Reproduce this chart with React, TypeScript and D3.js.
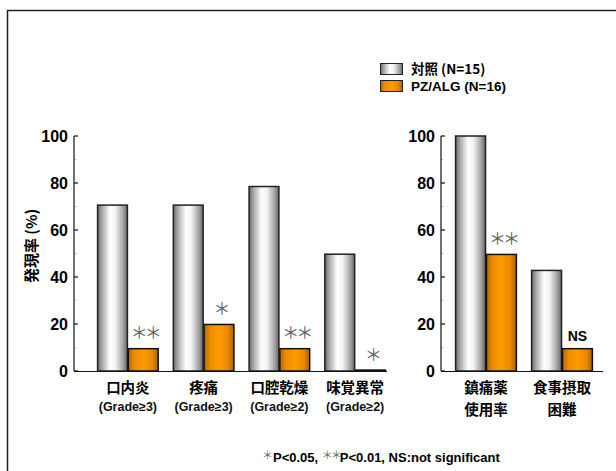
import React from 'react';
import * as d3 from 'd3';

const leftCategories = ['口内炎', '疼痛', '口腔乾燥', '味覚異常'];
const leftSublabels = ['(Grade≥3)', '(Grade≥3)', '(Grade≥2)', '(Grade≥2)'];
const leftControl = [70.6, 70.6, 78.5, 49.7];
const leftPZ = [9.5, 19.8, 9.5, 0.4];
const leftSig = ['**', '*', '**', '*'];

const rightCategories = ['鎮痛薬\n使用率', '食事摂取\n困難'];
const rightControl = [100, 42.8];
const rightPZ = [49.6, 9.5];
const rightSig = ['**', 'NS'];

const series = ['対照 (N=15)', 'PZ/ALG (N=16)'];
const yTicks = [0, 20, 40, 60, 80, 100];
const footnote = ['*', 'P<0.05, ', '**', 'P<0.01, NS:not significant'];

const ARIAL = '"Liberation Sans", Arial, sans-serif';
const CJK = '"Noto Sans CJK JP", "Liberation Sans", sans-serif';

const y = d3.scaleLinear().domain([0, 100]).range([371, 136]);

const star = (s: string) => s.replace(/\*/g, '＊');

function Panel({ cats, ctrl, pz, sig, axisX, axisEnd, range, sub }: any) {
  const x = d3.scaleBand<string>().domain(cats).range(range).paddingInner(0.2).paddingOuter(0.1);
  const x1 = d3.scaleBand<string>().domain(['c', 'p']).range([0, x.bandwidth()]).paddingInner(0.03);
  const minor = d3.range(10, 100, 20);
  return (
    <g>
      <line x1={axisX} x2={axisX} y1={y(100)} y2={y(0)} stroke="#111" strokeWidth={1.2} />
      {yTicks.map((t) => (
        <g key={t}>
          <line x1={axisX} x2={axisX + 4} y1={y(t)} y2={y(t)} stroke="#111" strokeWidth={1.2} />
          <text x={axisX - 6} y={y(t)} dy="0.36em" textAnchor="end" fontFamily={ARIAL} fontWeight="bold" fontSize={16} fill="#000">
            {t}
          </text>
        </g>
      ))}
      {minor.map((t) => (
        <line key={t} x1={axisX} x2={axisX + 1.5} y1={y(t)} y2={y(t)} stroke="#666" strokeWidth={1} />
      ))}
      {cats.map((c: string, i: number) => {
        const gx = x(c)!;
        const xc = gx + x1('c')!;
        const xp = gx + x1('p')!;
        const bw = x1.bandwidth();
        const s = sig[i];
        const isNS = s === 'NS';
        const n = s.length;
        return (
          <g key={c}>
            <rect x={xc} y={y(ctrl[i])} width={bw} height={y(0) - y(ctrl[i])} fill="url(#greyGrad)" stroke="#222" strokeWidth={1.5} />
            <rect x={xp} y={y(pz[i])} width={bw} height={y(0) - y(pz[i])} fill="url(#orangeGrad)" stroke="#111" strokeWidth={1.5} />
            <text
              x={xp + bw / 2 + (isNS ? 0 : 1.5)}
              y={y(pz[i]) - (isNS ? 13 : 17)}
              dominantBaseline="central"
              textAnchor="middle"
              fontFamily={isNS ? ARIAL : CJK}
              fontWeight={isNS ? 'bold' : 'normal'}
              fontSize={isNS ? 14 : 17}
              letterSpacing={isNS ? 0 : -3}
              fill={isNS ? '#000' : '#666'}
            >
              {isNS ? s : star(s)}
            </text>
          </g>
        );
      })}
      <line x1={axisX} x2={axisEnd} y1={y(0) + 0.5} y2={y(0) + 0.5} stroke="#111" strokeWidth={1.2} />
      {cats.map((c: string, i: number) => {
        const cx = x(c)! + x.bandwidth() / 2;
        const lines = c.split('\n');
        return (
          <g key={'l' + c}>
            <text x={cx} y={393} textAnchor="middle" fontFamily={CJK} fontWeight="bold" fontSize={14.5} fill="#000">
              {lines[0]}
            </text>
            {sub ? (
              <text x={cx} y={411} textAnchor="middle" fontFamily={ARIAL} fontWeight="bold" fontSize={12.5} fill="#111">
                {sub[i]}
              </text>
            ) : (
              <text x={cx} y={415} textAnchor="middle" fontFamily={CJK} fontWeight="bold" fontSize={14.5} fill="#000">
                {lines[1]}
              </text>
            )}
          </g>
        );
      })}
    </g>
  );
}

export default function App() {
  return (
    <svg width={616} height={471} style={{ position: 'absolute', left: 0, top: 0, background: '#fff' }}>
      <defs>
        <linearGradient id="greyGrad" x1="0" x2="1" y1="0" y2="0">
          <stop offset="0" stopColor="#6a6a6a" />
          <stop offset="0.15" stopColor="#a9a9a9" />
          <stop offset="0.42" stopColor="#ffffff" />
          <stop offset="0.6" stopColor="#f2f2f2" />
          <stop offset="0.85" stopColor="#a4a4a4" />
          <stop offset="1" stopColor="#666666" />
        </linearGradient>
        <linearGradient id="orangeGrad" x1="0" x2="1" y1="0" y2="0">
          <stop offset="0" stopColor="#b56800" />
          <stop offset="0.2" stopColor="#ec8c00" />
          <stop offset="0.5" stopColor="#ff9a00" />
          <stop offset="0.8" stopColor="#ea8a00" />
          <stop offset="1" stopColor="#a86000" />
        </linearGradient>
      </defs>
      <rect x={7.5} y={10.5} width={630} height={480} fill="none" stroke="#222" strokeWidth={1.5} />

      {series.map((s, i) => (
        <g key={s}>
          <rect x={380.5} y={63.5 + i * 17} width={22} height={11} fill={i === 0 ? 'url(#greyGrad)' : 'url(#orangeGrad)'} stroke="#222" strokeWidth={1} />
          <text x={411} y={74} dy={i * 17} fontFamily={i === 0 ? CJK : ARIAL} fontWeight="bold" fontSize={13.5} fill="#000">
            {s}
          </text>
        </g>
      ))}

      <text transform="translate(37,246) rotate(-90)" textAnchor="middle" fontFamily={CJK} fontWeight="bold" fontSize={15} fill="#000">
        発現率 (%)
      </text>

      <Panel cats={leftCategories} ctrl={leftControl} pz={leftPZ} sig={leftSig} axisX={74} axisEnd={387} range={[90, 393]} sub={leftSublabels} />
      <Panel cats={rightCategories} ctrl={rightControl} pz={rightPZ} sig={rightSig} axisX={441} axisEnd={603} range={[448, 600]} />

      <text x={262} y={462} fontFamily={ARIAL} fontWeight="bold" fontSize={13} fill="#000">
        <tspan fill="#666" fontWeight="normal" fontFamily={CJK} fontSize={11} dy={-3}>{star(footnote[0])}</tspan>
        <tspan dy={3}>{footnote[1]}</tspan>
        <tspan fill="#666" fontWeight="normal" fontFamily={CJK} fontSize={11} dy={-3} letterSpacing={-2}>{star(footnote[2])}</tspan>
        <tspan dy={3} letterSpacing={0}>{footnote[3]}</tspan>
      </text>
    </svg>
  );
}
